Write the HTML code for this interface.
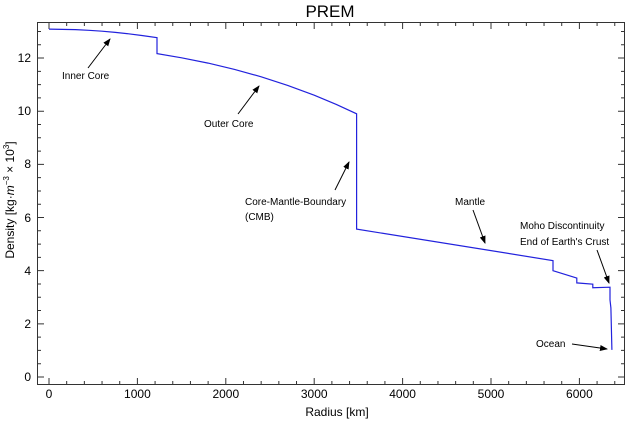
<!DOCTYPE html>
<html><head><meta charset="utf-8"><style>
body{margin:0;background:#fff}
svg{display:block;font-family:"Liberation Sans",sans-serif}
</style></head><body>
<svg width="640" height="422" viewBox="0 0 640 422">
<defs><marker id="a" markerWidth="8" markerHeight="6" refX="7" refY="3" orient="auto" markerUnits="userSpaceOnUse"><path d="M0,0 L8,3 L0,6 z" fill="#000"/></marker></defs>
<rect x="37.5" y="22.5" width="587" height="362" fill="none" stroke="#333" stroke-width="1"/>
<g stroke="#333" stroke-width="1" fill="none">
<path d="M49,384v-6M66.68,384v-3M84.36,384v-3M102.04,384v-3M119.72,384v-3M137.4,384v-6M155.08,384v-3M172.76,384v-3M190.44,384v-3M208.12,384v-3M225.8,384v-6M243.48,384v-3M261.16,384v-3M278.84,384v-3M296.52,384v-3M314.2,384v-6M331.88,384v-3M349.56,384v-3M367.24,384v-3M384.92,384v-3M402.6,384v-6M420.28,384v-3M437.96,384v-3M455.64,384v-3M473.32,384v-3M491,384v-6M508.68,384v-3M526.36,384v-3M544.04,384v-3M561.72,384v-3M579.4,384v-6M597.08,384v-3M614.76,384v-3"/>
<path d="M49,23v6M66.68,23v3M84.36,23v3M102.04,23v3M119.72,23v3M137.4,23v6M155.08,23v3M172.76,23v3M190.44,23v3M208.12,23v3M225.8,23v6M243.48,23v3M261.16,23v3M278.84,23v3M296.52,23v3M314.2,23v6M331.88,23v3M349.56,23v3M367.24,23v3M384.92,23v3M402.6,23v6M420.28,23v3M437.96,23v3M455.64,23v3M473.32,23v3M491,23v6M508.68,23v3M526.36,23v3M544.04,23v3M561.72,23v3M579.4,23v6M597.08,23v3M614.76,23v3"/>
<path d="M38,377h6M38,363.71h3M38,350.42h3M38,337.13h3M38,323.84h6M38,310.55h3M38,297.26h3M38,283.97h3M38,270.68h6M38,257.39h3M38,244.1h3M38,230.81h3M38,217.52h6M38,204.23h3M38,190.94h3M38,177.65h3M38,164.36h6M38,151.07h3M38,137.78h3M38,124.49h3M38,111.2h6M38,97.91h3M38,84.62h3M38,71.33h3M38,58.04h6M38,44.75h3M38,31.46h3"/>
<path d="M624,377h-6M624,363.71h-3M624,350.42h-3M624,337.13h-3M624,323.84h-6M624,310.55h-3M624,297.26h-3M624,283.97h-3M624,270.68h-6M624,257.39h-3M624,244.1h-3M624,230.81h-3M624,217.52h-6M624,204.23h-3M624,190.94h-3M624,177.65h-3M624,164.36h-6M624,151.07h-3M624,137.78h-3M624,124.49h-3M624,111.2h-6M624,97.91h-3M624,84.62h-3M624,71.33h-3M624,58.04h-6M624,44.75h-3M624,31.46h-3"/>
</g>
<text x="330" y="17" font-size="17" text-anchor="middle">PREM</text>
<g font-size="12" text-anchor="middle">
<text x="49" y="398">0</text><text x="137.4" y="398">1000</text><text x="225.8" y="398">2000</text><text x="314.2" y="398">3000</text><text x="402.6" y="398">4000</text><text x="491" y="398">5000</text><text x="579.4" y="398">6000</text>
</g>
<g font-size="12" text-anchor="end">
<text x="31" y="381">0</text><text x="31" y="328">2</text><text x="31" y="275">4</text><text x="31" y="222">6</text><text x="31" y="168">8</text><text x="31" y="115">10</text><text x="31" y="62">12</text>
</g>
<text x="337" y="416" font-size="12" text-anchor="middle">Radius [km]</text>
<text transform="translate(14,200) rotate(-90)" font-size="12" text-anchor="middle">Density [kg·<tspan font-style="italic">m</tspan><tspan dy="-5" font-size="8">−3</tspan><tspan dy="5"> × 10</tspan><tspan dy="-5" font-size="8">3</tspan><tspan dy="5">]</tspan></text>
<polyline fill="none" stroke="#2222dd" stroke-width="1.2" points="49,29.1 75.5,29.6 88.8,30.3 102,31.2 115.3,32.4 128.6,33.8 141.8,35.5 157,37.7 157,53.6 181.6,57.8 208.1,63.1 234.6,69.4 261.2,76.8 287.7,85.4 314.2,95.2 336.3,104.4 356.6,113.8 356.6,229.1 553,260.6 553,270.7 576.8,278.1 576.8,282.9 592.8,284.2 592.8,287.7 610,287.2 610,299.9 610.9,307.9 611.9,349.9"/>
<g font-size="10" fill="#000">
<text x="62" y="79">Inner Core</text>
<text x="204" y="127">Outer Core</text>
<text x="245" y="205">Core-Mantle-Boundary</text>
<text x="245" y="220">(CMB)</text>
<text x="455" y="205">Mantle</text>
<text x="520" y="229">Moho Discontinuity</text>
<text x="520" y="245">End of Earth's Crust</text>
<text x="536" y="347">Ocean</text>
</g>
<g stroke="#000" stroke-width="1" marker-end="url(#a)">
<line x1="88" y1="68" x2="110" y2="39"/>
<line x1="238" y1="114" x2="259" y2="86"/>
<line x1="335" y1="190" x2="349" y2="162"/>
<line x1="473" y1="210" x2="485" y2="243"/>
<line x1="597" y1="250" x2="609" y2="283"/>
<line x1="572" y1="344" x2="607" y2="349"/>
</g>
</svg>
</body></html>
